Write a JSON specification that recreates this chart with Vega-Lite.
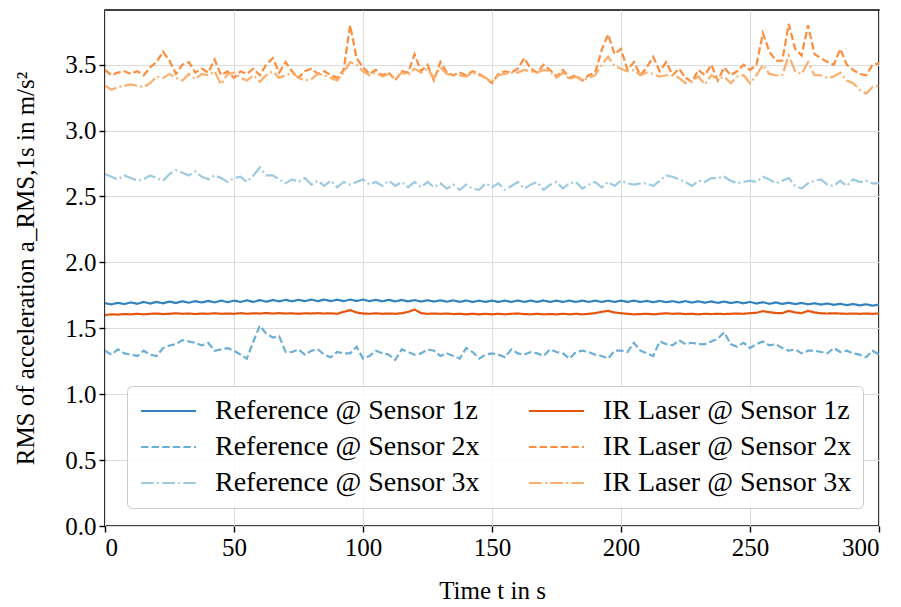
{
  "$schema": "https://vega.github.io/schema/vega-lite/v6.json",
  "width": 774,
  "height": 516,
  "autosize": {"type": "none"},
  "padding": {"left": 105, "top": 10, "right": 22, "bottom": 81},
  "config": {
    "font": "Liberation Serif",
    "style": {
      "guide-label": {"font": "Liberation Serif"},
      "guide-title": {"font": "Liberation Serif"}
    },
    "view": {"stroke": "#000000", "strokeWidth": 1.6},
    "axis": {
      "domain": false,
      "grid": true,
      "gridColor": "#dcdcdc",
      "gridWidth": 1,
      "tickColor": "#000000",
      "tickWidth": 1.4,
      "tickSize": 6,
      "labelFont": "Liberation Serif",
      "labelFontSize": 25,
      "labelColor": "#000000",
      "labelPadding": 3,
      "titleFont": "Liberation Serif",
      "titleFontSize": 25,
      "titleFontWeight": "normal",
      "titleColor": "#000000"
    },
    "legend": {
      "orient": "none",
      "legendX": 22,
      "legendY": 376,
      "columns": 2,
      "columnPadding": 44,
      "rowPadding": 8,
      "padding": 11,
      "fillColor": "rgba(255,255,255,0.85)",
      "strokeColor": "#cccccc",
      "cornerRadius": 5,
      "symbolType": "M-1,0L4,0",
      "symbolSize": 484,
      "symbolStrokeWidth": 2.2,
      "labelFont": "Liberation Serif",
      "labelFontSize": 28,
      "labelColor": "#000000",
      "labelOffset": 49,
      "labelLimit": 400
    }
  },
  "data": {
    "values": [
      {"t":0,"r1":1.69,"r2":1.33,"r3":2.67,"i1":1.6,"i2":3.46,"i3":3.34},
      {"t":2.5,"r1":1.682,"r2":1.3,"r3":2.65,"i1":1.606,"i2":3.42,"i3":3.31},
      {"t":5,"r1":1.693,"r2":1.34,"r3":2.63,"i1":1.604,"i2":3.44,"i3":3.33},
      {"t":7.5,"r1":1.684,"r2":1.31,"r3":2.66,"i1":1.608,"i2":3.45,"i3":3.34},
      {"t":10,"r1":1.696,"r2":1.3,"r3":2.64,"i1":1.606,"i2":3.43,"i3":3.35},
      {"t":12.5,"r1":1.686,"r2":1.29,"r3":2.62,"i1":1.61,"i2":3.45,"i3":3.34},
      {"t":15,"r1":1.7,"r2":1.33,"r3":2.63,"i1":1.606,"i2":3.42,"i3":3.33},
      {"t":17.5,"r1":1.688,"r2":1.3,"r3":2.66,"i1":1.61,"i2":3.48,"i3":3.36},
      {"t":20,"r1":1.7,"r2":1.29,"r3":2.64,"i1":1.612,"i2":3.52,"i3":3.41},
      {"t":22.5,"r1":1.69,"r2":1.35,"r3":2.62,"i1":1.608,"i2":3.6,"i3":3.4},
      {"t":25,"r1":1.703,"r2":1.37,"r3":2.67,"i1":1.61,"i2":3.53,"i3":3.43},
      {"t":27.5,"r1":1.692,"r2":1.38,"r3":2.7,"i1":1.614,"i2":3.43,"i3":3.4},
      {"t":30,"r1":1.705,"r2":1.41,"r3":2.68,"i1":1.61,"i2":3.5,"i3":3.38},
      {"t":32.5,"r1":1.694,"r2":1.4,"r3":2.66,"i1":1.612,"i2":3.52,"i3":3.43},
      {"t":35,"r1":1.706,"r2":1.39,"r3":2.69,"i1":1.608,"i2":3.44,"i3":3.39},
      {"t":37.5,"r1":1.696,"r2":1.37,"r3":2.65,"i1":1.612,"i2":3.47,"i3":3.43},
      {"t":40,"r1":1.708,"r2":1.39,"r3":2.63,"i1":1.61,"i2":3.44,"i3":3.42},
      {"t":42.5,"r1":1.697,"r2":1.33,"r3":2.66,"i1":1.614,"i2":3.54,"i3":3.45},
      {"t":45,"r1":1.71,"r2":1.34,"r3":2.64,"i1":1.61,"i2":3.42,"i3":3.35},
      {"t":47.5,"r1":1.698,"r2":1.35,"r3":2.61,"i1":1.612,"i2":3.45,"i3":3.43},
      {"t":50,"r1":1.71,"r2":1.33,"r3":2.64,"i1":1.61,"i2":3.4,"i3":3.44},
      {"t":52.5,"r1":1.7,"r2":1.3,"r3":2.65,"i1":1.615,"i2":3.45,"i3":3.4},
      {"t":55,"r1":1.712,"r2":1.27,"r3":2.61,"i1":1.61,"i2":3.43,"i3":3.38},
      {"t":57.5,"r1":1.7,"r2":1.4,"r3":2.66,"i1":1.614,"i2":3.47,"i3":3.42},
      {"t":60,"r1":1.714,"r2":1.52,"r3":2.72,"i1":1.612,"i2":3.42,"i3":3.37},
      {"t":62.5,"r1":1.702,"r2":1.46,"r3":2.66,"i1":1.616,"i2":3.5,"i3":3.42},
      {"t":65,"r1":1.715,"r2":1.43,"r3":2.66,"i1":1.612,"i2":3.55,"i3":3.45},
      {"t":67.5,"r1":1.704,"r2":1.44,"r3":2.63,"i1":1.615,"i2":3.44,"i3":3.4},
      {"t":70,"r1":1.716,"r2":1.32,"r3":2.6,"i1":1.612,"i2":3.52,"i3":3.42},
      {"t":72.5,"r1":1.705,"r2":1.32,"r3":2.63,"i1":1.614,"i2":3.45,"i3":3.44},
      {"t":75,"r1":1.716,"r2":1.34,"r3":2.61,"i1":1.61,"i2":3.4,"i3":3.4},
      {"t":77.5,"r1":1.706,"r2":1.3,"r3":2.64,"i1":1.614,"i2":3.45,"i3":3.38},
      {"t":80,"r1":1.718,"r2":1.33,"r3":2.59,"i1":1.612,"i2":3.47,"i3":3.39},
      {"t":82.5,"r1":1.706,"r2":1.34,"r3":2.62,"i1":1.615,"i2":3.43,"i3":3.43},
      {"t":85,"r1":1.718,"r2":1.3,"r3":2.58,"i1":1.612,"i2":3.45,"i3":3.42},
      {"t":87.5,"r1":1.706,"r2":1.28,"r3":2.62,"i1":1.614,"i2":3.42,"i3":3.4},
      {"t":90,"r1":1.717,"r2":1.32,"r3":2.57,"i1":1.61,"i2":3.4,"i3":3.38},
      {"t":92.5,"r1":1.706,"r2":1.31,"r3":2.61,"i1":1.625,"i2":3.46,"i3":3.44},
      {"t":95,"r1":1.718,"r2":1.31,"r3":2.59,"i1":1.638,"i2":3.8,"i3":3.52},
      {"t":97.5,"r1":1.707,"r2":1.36,"r3":2.61,"i1":1.62,"i2":3.55,"i3":3.5},
      {"t":100,"r1":1.718,"r2":1.27,"r3":2.63,"i1":1.612,"i2":3.48,"i3":3.45},
      {"t":102.5,"r1":1.706,"r2":1.29,"r3":2.59,"i1":1.61,"i2":3.43,"i3":3.42},
      {"t":105,"r1":1.716,"r2":1.33,"r3":2.61,"i1":1.614,"i2":3.46,"i3":3.44},
      {"t":107.5,"r1":1.705,"r2":1.31,"r3":2.58,"i1":1.61,"i2":3.42,"i3":3.41},
      {"t":110,"r1":1.716,"r2":1.3,"r3":2.62,"i1":1.612,"i2":3.44,"i3":3.43},
      {"t":112.5,"r1":1.704,"r2":1.26,"r3":2.58,"i1":1.61,"i2":3.38,"i3":3.39},
      {"t":115,"r1":1.715,"r2":1.34,"r3":2.61,"i1":1.614,"i2":3.45,"i3":3.44},
      {"t":117.5,"r1":1.704,"r2":1.32,"r3":2.57,"i1":1.625,"i2":3.44,"i3":3.42},
      {"t":120,"r1":1.714,"r2":1.3,"r3":2.61,"i1":1.642,"i2":3.58,"i3":3.47},
      {"t":122.5,"r1":1.703,"r2":1.31,"r3":2.57,"i1":1.615,"i2":3.45,"i3":3.44},
      {"t":125,"r1":1.713,"r2":1.34,"r3":2.61,"i1":1.61,"i2":3.5,"i3":3.47},
      {"t":127.5,"r1":1.703,"r2":1.33,"r3":2.57,"i1":1.612,"i2":3.38,"i3":3.4},
      {"t":130,"r1":1.712,"r2":1.29,"r3":2.6,"i1":1.61,"i2":3.52,"i3":3.48},
      {"t":132.5,"r1":1.702,"r2":1.31,"r3":2.56,"i1":1.612,"i2":3.44,"i3":3.43},
      {"t":135,"r1":1.712,"r2":1.29,"r3":2.59,"i1":1.608,"i2":3.42,"i3":3.42},
      {"t":137.5,"r1":1.7,"r2":1.27,"r3":2.55,"i1":1.61,"i2":3.44,"i3":3.42},
      {"t":140,"r1":1.711,"r2":1.35,"r3":2.59,"i1":1.606,"i2":3.42,"i3":3.41},
      {"t":142.5,"r1":1.7,"r2":1.32,"r3":2.56,"i1":1.61,"i2":3.45,"i3":3.44},
      {"t":145,"r1":1.71,"r2":1.27,"r3":2.55,"i1":1.606,"i2":3.43,"i3":3.42},
      {"t":147.5,"r1":1.7,"r2":1.3,"r3":2.6,"i1":1.61,"i2":3.4,"i3":3.4},
      {"t":150,"r1":1.71,"r2":1.31,"r3":2.57,"i1":1.606,"i2":3.36,"i3":3.37},
      {"t":152.5,"r1":1.7,"r2":1.3,"r3":2.6,"i1":1.61,"i2":3.43,"i3":3.42},
      {"t":155,"r1":1.71,"r2":1.28,"r3":2.55,"i1":1.606,"i2":3.45,"i3":3.43},
      {"t":157.5,"r1":1.7,"r2":1.34,"r3":2.58,"i1":1.61,"i2":3.44,"i3":3.44},
      {"t":160,"r1":1.711,"r2":1.31,"r3":2.61,"i1":1.612,"i2":3.47,"i3":3.44},
      {"t":162.5,"r1":1.7,"r2":1.3,"r3":2.56,"i1":1.608,"i2":3.55,"i3":3.46},
      {"t":165,"r1":1.71,"r2":1.32,"r3":2.59,"i1":1.606,"i2":3.47,"i3":3.45},
      {"t":167.5,"r1":1.7,"r2":1.31,"r3":2.61,"i1":1.61,"i2":3.44,"i3":3.44},
      {"t":170,"r1":1.711,"r2":1.29,"r3":2.55,"i1":1.606,"i2":3.5,"i3":3.46},
      {"t":172.5,"r1":1.7,"r2":1.34,"r3":2.59,"i1":1.608,"i2":3.46,"i3":3.45},
      {"t":175,"r1":1.71,"r2":1.32,"r3":2.61,"i1":1.606,"i2":3.41,"i3":3.4},
      {"t":177.5,"r1":1.7,"r2":1.31,"r3":2.56,"i1":1.61,"i2":3.46,"i3":3.44},
      {"t":180,"r1":1.71,"r2":1.27,"r3":2.6,"i1":1.606,"i2":3.4,"i3":3.39},
      {"t":182.5,"r1":1.7,"r2":1.32,"r3":2.61,"i1":1.61,"i2":3.42,"i3":3.41},
      {"t":185,"r1":1.71,"r2":1.33,"r3":2.56,"i1":1.606,"i2":3.38,"i3":3.38},
      {"t":187.5,"r1":1.7,"r2":1.32,"r3":2.59,"i1":1.61,"i2":3.42,"i3":3.4},
      {"t":190,"r1":1.71,"r2":1.3,"r3":2.61,"i1":1.615,"i2":3.44,"i3":3.42},
      {"t":192.5,"r1":1.7,"r2":1.29,"r3":2.57,"i1":1.625,"i2":3.61,"i3":3.5},
      {"t":195,"r1":1.71,"r2":1.27,"r3":2.61,"i1":1.632,"i2":3.73,"i3":3.56},
      {"t":197.5,"r1":1.7,"r2":1.33,"r3":2.58,"i1":1.62,"i2":3.58,"i3":3.49},
      {"t":200,"r1":1.71,"r2":1.33,"r3":2.62,"i1":1.614,"i2":3.62,"i3":3.47},
      {"t":202.5,"r1":1.7,"r2":1.32,"r3":2.6,"i1":1.61,"i2":3.46,"i3":3.45},
      {"t":205,"r1":1.71,"r2":1.39,"r3":2.59,"i1":1.606,"i2":3.52,"i3":3.46},
      {"t":207.5,"r1":1.7,"r2":1.33,"r3":2.6,"i1":1.608,"i2":3.42,"i3":3.42},
      {"t":210,"r1":1.708,"r2":1.31,"r3":2.6,"i1":1.61,"i2":3.48,"i3":3.44},
      {"t":212.5,"r1":1.698,"r2":1.29,"r3":2.58,"i1":1.606,"i2":3.56,"i3":3.43},
      {"t":215,"r1":1.708,"r2":1.4,"r3":2.62,"i1":1.61,"i2":3.45,"i3":3.41},
      {"t":217.5,"r1":1.698,"r2":1.38,"r3":2.66,"i1":1.614,"i2":3.52,"i3":3.42},
      {"t":220,"r1":1.706,"r2":1.37,"r3":2.65,"i1":1.61,"i2":3.42,"i3":3.42},
      {"t":222.5,"r1":1.696,"r2":1.41,"r3":2.63,"i1":1.612,"i2":3.47,"i3":3.4},
      {"t":225,"r1":1.706,"r2":1.38,"r3":2.61,"i1":1.608,"i2":3.4,"i3":3.36},
      {"t":227.5,"r1":1.695,"r2":1.39,"r3":2.58,"i1":1.61,"i2":3.37,"i3":3.38},
      {"t":230,"r1":1.705,"r2":1.38,"r3":2.62,"i1":1.606,"i2":3.46,"i3":3.41},
      {"t":232.5,"r1":1.694,"r2":1.38,"r3":2.61,"i1":1.61,"i2":3.42,"i3":3.35},
      {"t":235,"r1":1.704,"r2":1.4,"r3":2.64,"i1":1.608,"i2":3.5,"i3":3.42},
      {"t":237.5,"r1":1.693,"r2":1.42,"r3":2.64,"i1":1.61,"i2":3.38,"i3":3.39},
      {"t":240,"r1":1.703,"r2":1.47,"r3":2.65,"i1":1.608,"i2":3.48,"i3":3.41},
      {"t":242.5,"r1":1.692,"r2":1.38,"r3":2.62,"i1":1.61,"i2":3.42,"i3":3.36},
      {"t":245,"r1":1.7,"r2":1.36,"r3":2.6,"i1":1.612,"i2":3.45,"i3":3.41},
      {"t":247.5,"r1":1.69,"r2":1.39,"r3":2.61,"i1":1.61,"i2":3.5,"i3":3.42},
      {"t":250,"r1":1.7,"r2":1.35,"r3":2.62,"i1":1.615,"i2":3.46,"i3":3.36},
      {"t":252.5,"r1":1.688,"r2":1.38,"r3":2.61,"i1":1.618,"i2":3.5,"i3":3.42},
      {"t":255,"r1":1.698,"r2":1.4,"r3":2.65,"i1":1.63,"i2":3.74,"i3":3.5},
      {"t":257.5,"r1":1.686,"r2":1.37,"r3":2.63,"i1":1.622,"i2":3.6,"i3":3.43},
      {"t":260,"r1":1.696,"r2":1.38,"r3":2.6,"i1":1.616,"i2":3.53,"i3":3.42},
      {"t":262.5,"r1":1.685,"r2":1.35,"r3":2.62,"i1":1.615,"i2":3.53,"i3":3.42},
      {"t":265,"r1":1.694,"r2":1.33,"r3":2.64,"i1":1.632,"i2":3.81,"i3":3.57},
      {"t":267.5,"r1":1.684,"r2":1.34,"r3":2.58,"i1":1.62,"i2":3.62,"i3":3.45},
      {"t":270,"r1":1.692,"r2":1.31,"r3":2.56,"i1":1.615,"i2":3.57,"i3":3.43},
      {"t":272.5,"r1":1.682,"r2":1.33,"r3":2.6,"i1":1.632,"i2":3.8,"i3":3.52},
      {"t":275,"r1":1.69,"r2":1.33,"r3":2.62,"i1":1.62,"i2":3.58,"i3":3.42},
      {"t":277.5,"r1":1.68,"r2":1.32,"r3":2.63,"i1":1.614,"i2":3.55,"i3":3.42},
      {"t":280,"r1":1.688,"r2":1.31,"r3":2.59,"i1":1.612,"i2":3.52,"i3":3.4},
      {"t":282.5,"r1":1.678,"r2":1.35,"r3":2.58,"i1":1.614,"i2":3.5,"i3":3.41},
      {"t":285,"r1":1.686,"r2":1.32,"r3":2.62,"i1":1.612,"i2":3.62,"i3":3.44},
      {"t":287.5,"r1":1.676,"r2":1.33,"r3":2.58,"i1":1.61,"i2":3.5,"i3":3.38},
      {"t":290,"r1":1.684,"r2":1.31,"r3":2.63,"i1":1.612,"i2":3.46,"i3":3.36},
      {"t":292.5,"r1":1.674,"r2":1.3,"r3":2.61,"i1":1.61,"i2":3.43,"i3":3.31},
      {"t":295,"r1":1.682,"r2":1.28,"r3":2.62,"i1":1.612,"i2":3.42,"i3":3.28},
      {"t":297.5,"r1":1.672,"r2":1.33,"r3":2.6,"i1":1.61,"i2":3.5,"i3":3.33},
      {"t":300,"r1":1.68,"r2":1.3,"r3":2.6,"i1":1.612,"i2":3.51,"i3":3.34}
    ]
  },
  "transform": [
    {"fold": ["r1", "r2", "r3", "i1", "i2", "i3"], "as": ["k", "v"]}
  ],
  "mark": {"type": "line", "strokeWidth": 2.2, "clip": true},
  "encoding": {
    "x": {
      "field": "t",
      "type": "quantitative",
      "scale": {"domain": [0, 300], "nice": false},
      "axis": {
        "title": "Time t in s",
        "values": [0, 50, 100, 150, 200, 250, 300],
        "titlePadding": 18,
        "labelFont": "Liberation Serif",
        "titleFont": "Liberation Serif"
      }
    },
    "y": {
      "field": "v",
      "type": "quantitative",
      "scale": {"domain": [0, 3.915], "nice": false, "zero": false},
      "axis": {
        "title": "RMS of acceleration a_RMS,1s in m/s²",
        "values": [0, 0.5, 1, 1.5, 2, 2.5, 3, 3.5],
        "format": ".1f",
        "titlePadding": 26,
        "labelFont": "Liberation Serif",
        "titleFont": "Liberation Serif"
      }
    },
    "color": {
      "field": "k",
      "type": "nominal",
      "scale": {
        "domain": ["r1", "r2", "r3", "i1", "i2", "i3"],
        "range": ["#3182bd", "#6baed6", "#9ecae1", "#e6550d", "#fd8d3c", "#fdae6b"]
      },
      "legend": {
        "title": null,
        "labelExpr": "datum.label == 'r1' ? 'Reference @ Sensor 1z' : datum.label == 'r2' ? 'Reference @ Sensor 2x' : datum.label == 'r3' ? 'Reference @ Sensor 3x' : datum.label == 'i1' ? 'IR Laser @ Sensor 1z' : datum.label == 'i2' ? 'IR Laser @ Sensor 2x' : 'IR Laser @ Sensor 3x'"
      }
    },
    "strokeDash": {
      "field": "k",
      "type": "nominal",
      "scale": {
        "domain": ["r1", "r2", "r3", "i1", "i2", "i3"],
        "range": [[1, 0], [7.4, 3.2], [12.8, 3.2, 2, 3.2], [1, 0], [7.4, 3.2], [12.8, 3.2, 2, 3.2]]
      },
      "legend": {
        "title": null,
        "labelExpr": "datum.label == 'r1' ? 'Reference @ Sensor 1z' : datum.label == 'r2' ? 'Reference @ Sensor 2x' : datum.label == 'r3' ? 'Reference @ Sensor 3x' : datum.label == 'i1' ? 'IR Laser @ Sensor 1z' : datum.label == 'i2' ? 'IR Laser @ Sensor 2x' : 'IR Laser @ Sensor 3x'"
      }
    }
  }
}
